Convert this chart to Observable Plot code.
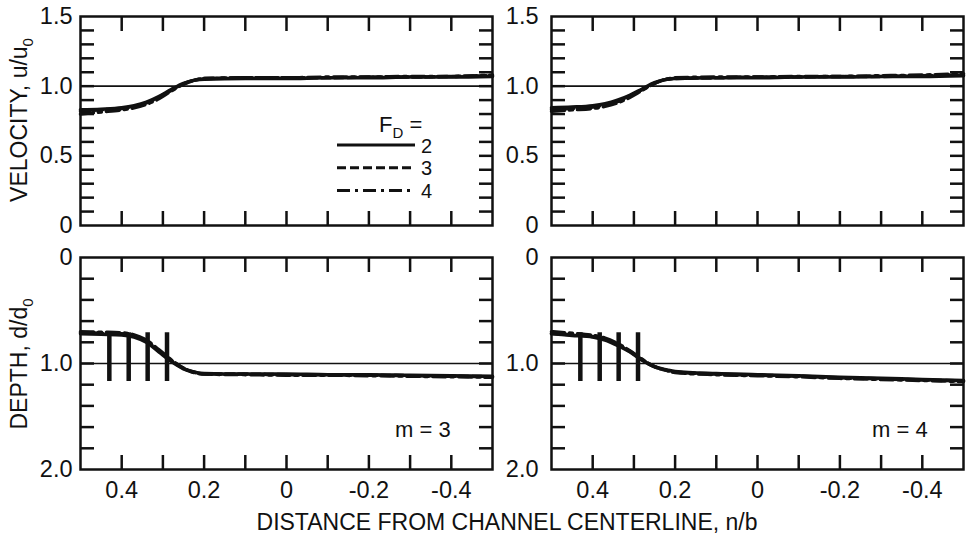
<!DOCTYPE html>
<html><head><meta charset="utf-8">
<script src="https://cdn.jsdelivr.net/npm/d3@7"></script>
<script src="https://cdn.jsdelivr.net/npm/@observablehq/plot@0.6"></script>
<style>
body{margin:0;background:#fff;}
#chart{position:relative;width:967px;height:536px;font-family:"Liberation Sans",Arial,sans-serif;color:#111;}
#chart svg{position:absolute;overflow:visible;}
</style></head><body><div id="chart"></div>
<script>
// ---- data ----
const FD = [2, 3, 4];
const nb = [0.5, 0.45, 0.4, 0.37, 0.34, 0.31, 0.28, 0.25, 0.22, 0.2, 0.1, 0, -0.1, -0.2, -0.3, -0.4, -0.5];

const vel3F2 = [0.83, 0.835, 0.845, 0.86, 0.885, 0.925, 0.975, 1.02, 1.045, 1.05, 1.055, 1.055, 1.06, 1.06, 1.065, 1.065, 1.07];
const vel3F3 = [0.82, 0.83, 0.84, 0.855, 0.88, 0.92, 0.97, 1.015, 1.045, 1.055, 1.06, 1.06, 1.06, 1.065, 1.065, 1.07, 1.075];
const vel3F4 = [0.80, 0.815, 0.83, 0.845, 0.87, 0.91, 0.965, 1.015, 1.045, 1.055, 1.06, 1.06, 1.065, 1.065, 1.07, 1.07, 1.08];

const vel4F2 = [0.845, 0.85, 0.86, 0.875, 0.9, 0.935, 0.98, 1.025, 1.05, 1.055, 1.06, 1.06, 1.065, 1.065, 1.07, 1.07, 1.075];
const vel4F3 = [0.835, 0.84, 0.85, 0.865, 0.89, 0.93, 0.975, 1.02, 1.05, 1.055, 1.06, 1.065, 1.065, 1.07, 1.07, 1.075, 1.08];
const vel4F4 = [0.82, 0.83, 0.84, 0.855, 0.88, 0.92, 0.97, 1.02, 1.05, 1.06, 1.065, 1.065, 1.07, 1.07, 1.075, 1.08, 1.09];

const dep3F2 = [0.72, 0.725, 0.73, 0.75, 0.8, 0.89, 0.98, 1.05, 1.085, 1.095, 1.1, 1.1, 1.105, 1.105, 1.11, 1.115, 1.12];
const dep3F3 = [0.71, 0.715, 0.72, 0.74, 0.79, 0.88, 0.97, 1.045, 1.085, 1.1, 1.1, 1.105, 1.105, 1.11, 1.115, 1.12, 1.125];
const dep3F4 = [0.70, 0.705, 0.71, 0.73, 0.78, 0.87, 0.965, 1.045, 1.09, 1.1, 1.105, 1.11, 1.11, 1.115, 1.12, 1.125, 1.13];

const dep4F2 = [0.72, 0.735, 0.75, 0.78, 0.83, 0.89, 0.97, 1.03, 1.06, 1.075, 1.095, 1.105, 1.115, 1.13, 1.14, 1.15, 1.16];
const dep4F3 = [0.715, 0.73, 0.745, 0.77, 0.82, 0.885, 0.965, 1.03, 1.065, 1.08, 1.1, 1.11, 1.12, 1.135, 1.145, 1.155, 1.165];
const dep4F4 = [0.70, 0.715, 0.735, 0.76, 0.81, 0.88, 0.96, 1.03, 1.065, 1.085, 1.105, 1.115, 1.125, 1.14, 1.15, 1.16, 1.17];

const barX = [0.43, 0.383, 0.337, 0.29];
const barTop = [0.71, 0.71, 0.71, 0.71];
const barBottom = [1.17, 1.17, 1.17, 1.17];

const xTickMinor = [0.4, 0.3, 0.2, 0.1, 0, -0.1, -0.2, -0.3, -0.4];
const xTickLabels = [0.4, 0.2, 0, -0.2, -0.4];
const velTickMinor = [0.1,0.2,0.3,0.4,0.5,0.6,0.7,0.8,0.9,1.0,1.1,1.2,1.3,1.4];
const velTickLabels = [0, 0.5, 1.0, 1.5];
const depTickMinor = [0.2,0.4,0.6,0.8,1.0,1.2,1.4,1.6,1.8];
const depTickLabels = [0, 1.0, 2.0];
const mLabels = ["m = 3", "m = 4"];

// ---- styling ----
const INK = "#111";
const DASH = [null, "9,4", "13,5,3,5"];
const FONT = '"Liberation Sans", Arial, sans-serif';
const fmt = d => d === 0 ? "0" : d.toFixed(1);

function panel(o) {
  const marks = [Plot.ruleY([1], {stroke: INK, strokeWidth: 1.7})];
  o.vals.forEach((v, k) => marks.push(Plot.line(v, {x: nb, y: Plot.identity, stroke: INK, strokeWidth: 3.5, strokeDasharray: DASH[k], curve: "monotone-x"})));
  if (o.bars) marks.push(Plot.ruleX(barX, {x: barX, y1: barTop, y2: barBottom, stroke: INK, strokeWidth: 4.5}));
  const tk = {stroke: INK, strokeWidth: 2.5, tickSize: 14, fill: "none", tickFormat: () => "", label: null};
  marks.push(
    Plot.axisX(xTickMinor, {...tk, anchor: "bottom", dy: -14}),
    Plot.axisX(xTickMinor, {...tk, anchor: "top", dy: 14}),
    Plot.axisY(o.yMinor, {...tk, anchor: "left", dx: 14}),
    Plot.axisY(o.yMinor, {...tk, anchor: "right", dx: -14}),
    Plot.axisY(o.yLabels, {anchor: "left", tickSize: 0, tickPadding: o.pad, tickFormat: fmt, fill: INK, label: null})
  );
  if (o.showX) marks.push(Plot.axisX(xTickLabels, {anchor: "bottom", tickSize: 0, tickPadding: 12, tickFormat: fmt, fill: INK, label: null}));
  marks.push(Plot.frame({stroke: INK, strokeWidth: 2.5}));
  const svg = Plot.plot({
    width: o.w, height: o.h,
    marginLeft: o.ml, marginRight: o.mr, marginTop: o.mt, marginBottom: o.mb,
    x: {domain: [0.5, -0.5]},
    y: o.y,
    style: {fontFamily: FONT, fontSize: "23.5px", color: INK, background: "transparent", overflow: "visible"},
    marks
  });
  svg.style.left = o.left + "px";
  svg.style.top = o.top + "px";
  document.getElementById("chart").appendChild(svg);
}

const velY = {domain: [0, 1.5]};
const depY = {domain: [0, 2], reverse: true};
panel({left: 0, top: 0, w: 500, h: 250, ml: 80, mr: 8, mt: 16, mb: 25, y: velY, yMinor: velTickMinor, yLabels: velTickLabels, pad: 8, vals: [vel3F2, vel3F3, vel3F4]});
panel({left: 500, top: 0, w: 467, h: 250, ml: 51, mr: 4, mt: 16, mb: 25, y: velY, yMinor: velTickMinor, yLabels: velTickLabels, pad: 13, vals: [vel4F2, vel4F3, vel4F4]});
panel({left: 0, top: 250, w: 500, h: 286, ml: 80, mr: 8, mt: 7, mb: 67, y: depY, yMinor: depTickMinor, yLabels: depTickLabels, pad: 8, vals: [dep3F2, dep3F3, dep3F4], bars: true, showX: true});
panel({left: 500, top: 250, w: 467, h: 286, ml: 51, mr: 4, mt: 7, mb: 67, y: depY, yMinor: depTickMinor, yLabels: depTickLabels, pad: 13, vals: [dep4F2, dep4F3, dep4F4], bars: true, showX: true});

// ---- overlay texts & legend ----
const ov = d3.select("#chart").append("svg")
  .attr("width", 967).attr("height", 536)
  .style("left", "0px").style("top", "0px")
  .attr("font-family", FONT).attr("fill", INK).style("pointer-events", "none");

function ytitle(txt, sub, cy) {
  const t = ov.append("text").attr("transform", `translate(27,${cy}) rotate(-90)`)
    .attr("text-anchor", "middle").attr("font-size", 23);
  t.append("tspan").text(txt);
  t.append("tspan").attr("font-size", 15).attr("dy", 6).text(sub);
}
ytitle("VELOCITY, u/u", "0", 120);
ytitle("DEPTH, d/d", "0", 364);

ov.append("text").attr("x", 507).attr("y", 530).attr("text-anchor", "middle")
  .attr("font-size", 23).text("DISTANCE FROM CHANNEL CENTERLINE, n/b");

// legend
const lg = ov.append("text").attr("x", 379).attr("y", 132).attr("font-size", 22);
lg.append("tspan").text("F");
lg.append("tspan").attr("font-size", 15).attr("dy", 6).text("D");
lg.append("tspan").attr("dy", -6).text(" =");
FD.forEach((f, k) => {
  const y = 145 + k * 22.8;
  ov.append("line").attr("x1", 337).attr("x2", 415).attr("y1", y).attr("y2", y)
    .attr("stroke", INK).attr("stroke-width", 3).attr("stroke-dasharray", DASH[k]);
  ov.append("text").attr("x", 421).attr("y", y + 7.5).attr("font-size", 20).text(f);
});

ov.append("text").attr("x", 395).attr("y", 437).attr("font-size", 22).text(mLabels[0]);
ov.append("text").attr("x", 872).attr("y", 437).attr("font-size", 22).text(mLabels[1]);
</script></body></html>
